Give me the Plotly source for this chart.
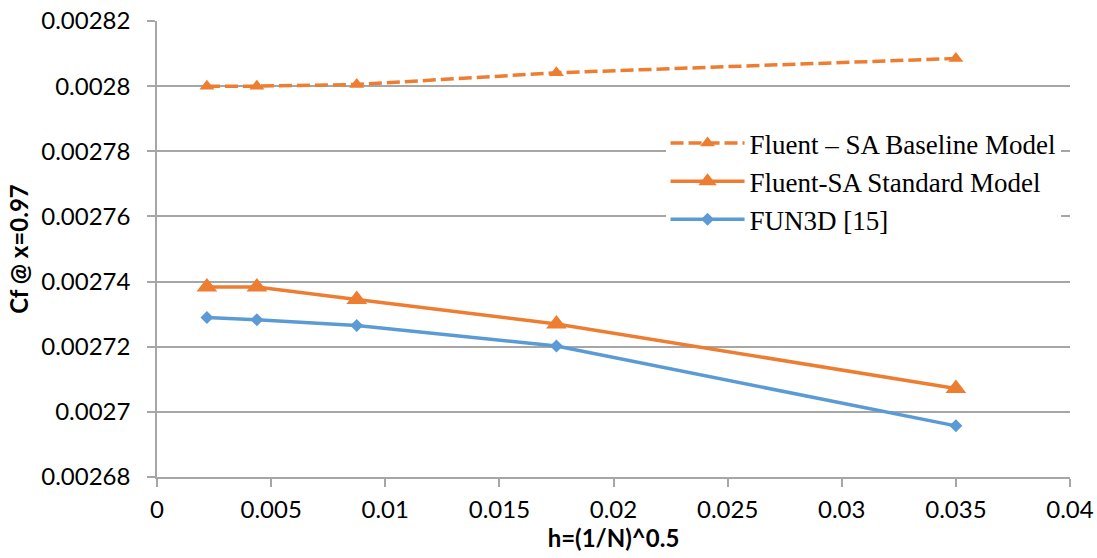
import plotly.graph_objects as go

# ---- data ----
h = [0.0021875, 0.004375, 0.00875, 0.0175, 0.035]
cf_baseline = [0.0028000, 0.0028000, 0.0028005, 0.0028041, 0.0028085]
cf_standard = [0.0027383, 0.0027383, 0.0027345, 0.0027270, 0.0027072]
cf_fun3d = [0.0027290, 0.0027283, 0.0027265, 0.0027202, 0.0026957]

names = ["Fluent \u2013 SA Baseline Model", "Fluent-SA Standard Model", "FUN3D [15]"]

y_ticks = [0.00268, 0.00270, 0.00272, 0.00274, 0.00276, 0.00278, 0.00280, 0.00282]
x_ticks = [0, 0.005, 0.01, 0.015, 0.02, 0.025, 0.03, 0.035, 0.04]

ORANGE = "#ED7D31"
BLUE = "#5B9BD5"
GRID = "#A6A6A6"

fig = go.Figure()
fig.add_trace(go.Scatter(
    x=h, y=cf_baseline, name=names[0], mode="lines+markers",
    line=dict(color=ORANGE, width=3.5, dash="13px,5px"),
    marker=dict(symbol="triangle-up", size=13, color=ORANGE),
))
fig.add_trace(go.Scatter(
    x=h, y=cf_standard, name=names[1], mode="lines+markers",
    line=dict(color=ORANGE, width=3.5),
    marker=dict(symbol="triangle-up", size=18, color=ORANGE),
))
fig.add_trace(go.Scatter(
    x=h, y=cf_fun3d, name=names[2], mode="lines+markers",
    line=dict(color=BLUE, width=3.5),
    marker=dict(symbol="diamond", size=10, color=BLUE),
))

tickfont = dict(family="Lato", size=24, color="#000000")
titlefont = dict(family="Lato", size=24, color="#000000")

fig.update_layout(
    width=1097, height=558,
    margin=dict(l=157, r=27, t=21, b=81, autoexpand=False),
    paper_bgcolor="white", plot_bgcolor="white",
    showlegend=True,
    legend=dict(
        x=0.557, y=0.785, xanchor="left", yanchor="top",
        font=dict(family="Liberation Serif", size=27, color="#000000"),
        bgcolor="rgba(255,255,255,1)",
        itemwidth=74, tracegroupgap=0,
    ),
    xaxis=dict(
        range=[0, 0.04], tickvals=x_ticks, ticktext=[f"{v:g}" for v in x_ticks],
        showgrid=False, zeroline=False,
        showline=True, linecolor=GRID, linewidth=1.5,
        ticks="outside", ticklen=8, tickcolor=GRID, tickwidth=1.5,
        tickfont=tickfont, ticklabelstandoff=2,
        title=dict(text="<b>h=(1/N)^0.5</b>", font=titlefont, standoff=8),
        automargin=False,
    ),
    yaxis=dict(
        range=[0.00268, 0.00282], tickvals=y_ticks, ticktext=[f"{v:g}" for v in y_ticks],
        showgrid=True, gridcolor=GRID, gridwidth=1.5, zeroline=False,
        showline=True, linecolor=GRID, linewidth=1.5,
        ticks="outside", ticklen=8, tickcolor=GRID, tickwidth=1.5,
        tickfont=tickfont, ticklabelstandoff=12,
        title=dict(text="<b>Cf @ x=0.97</b>", font=titlefont, standoff=6),
        automargin=False,
    ),
)

fig.write_html("out.html")
